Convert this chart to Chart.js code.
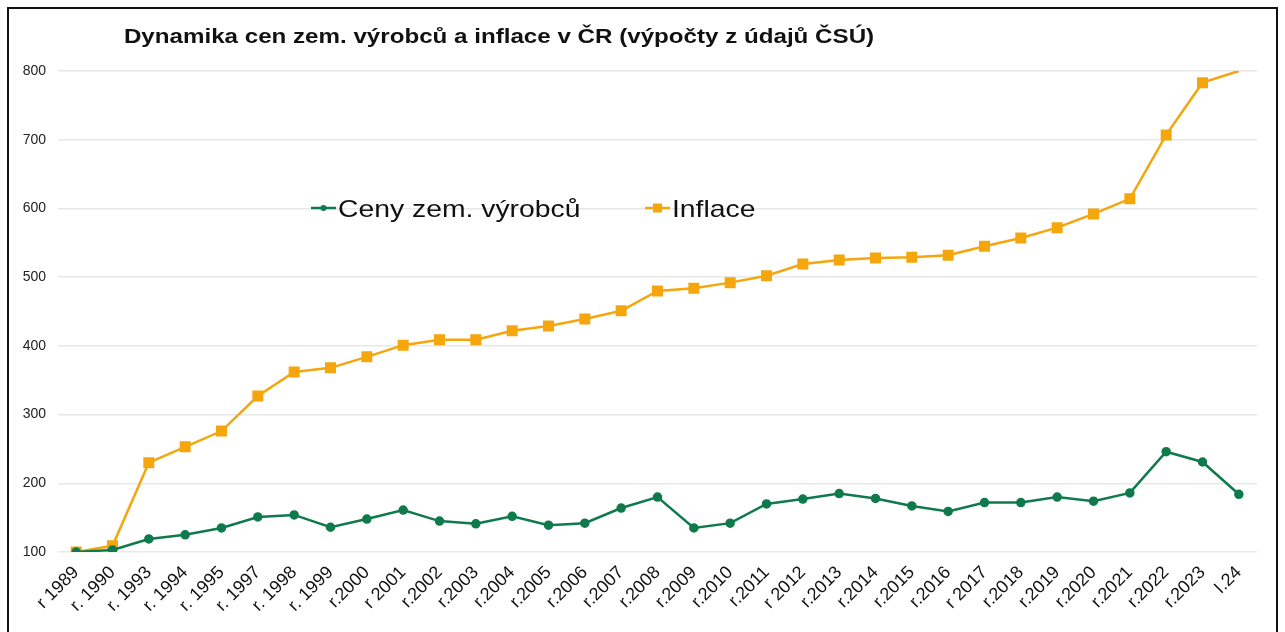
<!DOCTYPE html>
<html>
<head>
<meta charset="utf-8">
<script src="https://cdn.jsdelivr.net/npm/chart.js@4"></script>
<style>
    html, body { margin: 0; padding: 0; background: #fff; }
    .frame {
        position: absolute; left: 7px; top: 7px;
        width: 1267px; height: 700px;
        border: 2px solid #111;
    }
    .wrap { position: absolute; left: 0; top: 0; width: 1285px; height: 632px; }
</style>
</head>
<body>
<div class="frame"></div>
<div class="wrap"><canvas id="lineChart"></canvas></div>
<script>
const title = 'Dynamika cen zem. výrobců a inflace v ČR (výpočty z údajů ČSÚ)';

const labels = [
    'r 1989', 'r. 1990', 'r. 1993', 'r. 1994', 'r. 1995', 'r. 1997', 'r. 1998', 'r. 1999',
    'r.2000', 'r 2001', 'r.2002', 'r.2003', 'r.2004', 'r.2005', 'r.2006', 'r.2007',
    'r.2008', 'r.2009', 'r.2010', 'r.2011', 'r 2012', 'r.2013', 'r.2014', 'r.2015',
    'r.2016', 'r 2017', 'r.2018', 'r.2019', 'r.2020', 'r.2021', 'r.2022', 'r.2023', 'I.24'
];

const ceny = [
    100, 103, 119, 125, 135, 151, 154, 136,
    148, 161, 145, 141, 152, 139, 142, 164,
    180, 135, 142, 170, 177, 185, 178, 167,
    159, 172, 172, 180, 174, 186, 246, 231, 184
];

const inflace = [
    100, 109, 230, 253, 276, 327, 362, 368,
    384, 401, 409, 409, 422, 429, 439, 451,
    480, 484, 492, 502, 519, 525, 528, 529,
    532, 545, 557, 572, 592, 614, 707, 783, 800
];

const yTicks = [100, 200, 300, 400, 500, 600, 700, 800];

const GREEN  = '#0f7a4c';
const ORANGE = '#f4a60c';
const GRID   = '#e8e8e8';
const FONT   = "'Liberation Sans', Arial, sans-serif";

// text in the original is a bit wider than Arial, so stretch it sideways
function wideText(ctx, text, x, y, sx, align) {
    ctx.save();
    ctx.translate(x, y);
    ctx.scale(sx, 1);
    ctx.textAlign = align;
    ctx.fillText(text, 0, 0);
    ctx.restore();
}

// title + legend drawn at the spots they sit in the original
const overlay = {
    id: 'overlay',
    afterDraw(chart) {
        const ctx = chart.ctx;
        ctx.save();
        ctx.fillStyle = '#111';
        ctx.textBaseline = 'alphabetic';
        ctx.font = 'bold 21px ' + FONT;
        wideText(ctx, title, 499, 43, 1.15, 'center');

        const items = [
            { ds: chart.data.datasets[0], x: 311 },
            { ds: chart.data.datasets[1], x: 645 }
        ];
        ctx.font = '24px ' + FONT;
        items.forEach(it => {
            const y = 208;
            ctx.strokeStyle = it.ds.borderColor;
            ctx.lineWidth = 2.5;
            ctx.beginPath();
            ctx.moveTo(it.x, y);
            ctx.lineTo(it.x + 25, y);
            ctx.stroke();
            ctx.fillStyle = it.ds.borderColor;
            if (it.ds.pointStyle === 'rect') {
                ctx.fillRect(it.x + 8, y - 4.5, 9, 9);
            } else {
                ctx.beginPath();
                ctx.arc(it.x + 12.5, y, 3, 0, Math.PI * 2);
                ctx.fill();
            }
            ctx.fillStyle = '#111';
            wideText(ctx, it.ds.label, it.x + 27, 217, 1.18, 'left');
        });
        ctx.restore();
    }
};

new Chart(document.getElementById('lineChart'), {
    type: 'line',
    data: {
        labels: labels,
        datasets: [
            {
                label: 'Ceny zem. výrobců',
                data: ceny,
                borderColor: GREEN,
                backgroundColor: GREEN,
                borderWidth: 2.5,
                pointStyle: 'circle',
                pointRadius: 3.5,
                tension: 0
            },
            {
                label: 'Inflace',
                data: inflace,
                borderColor: ORANGE,
                backgroundColor: ORANGE,
                borderWidth: 2.5,
                pointStyle: 'rect',
                pointRadius: inflace.map((v, i) => i === inflace.length - 1 ? 0 : 6),
                tension: 0
            }
        ]
    },
    options: {
        responsive: true,
        maintainAspectRatio: false,
        animation: false,
        layout: { padding: { top: 71, right: 28, left: 0, bottom: 0 } },
        plugins: {
            legend: { display: false },
            title: { display: false },
            tooltip: { enabled: false }
        },
        scales: {
            x: {
                offset: true,
                grid: { display: false },
                border: { display: false },
                ticks: {
                    color: '#111',
                    font: { family: FONT, size: 18 },
                    minRotation: 45,
                    maxRotation: 45,
                    autoSkip: false,
                    padding: 2
                },
                afterFit: s => { s.height = 80; }
            },
            y: {
                min: 100,
                max: 800,
                grid: { color: GRID, lineWidth: 1.5, drawTicks: false },
                border: { display: false },
                afterBuildTicks: s => { s.ticks = yTicks.map(v => ({ value: v })); },
                ticks: {
                    color: '#222',
                    font: { family: FONT, size: 14 },
                    padding: 12
                },
                afterFit: s => { s.width = 58; }
            }
        }
    },
    plugins: [overlay]
});
</script>
</body>
</html>
